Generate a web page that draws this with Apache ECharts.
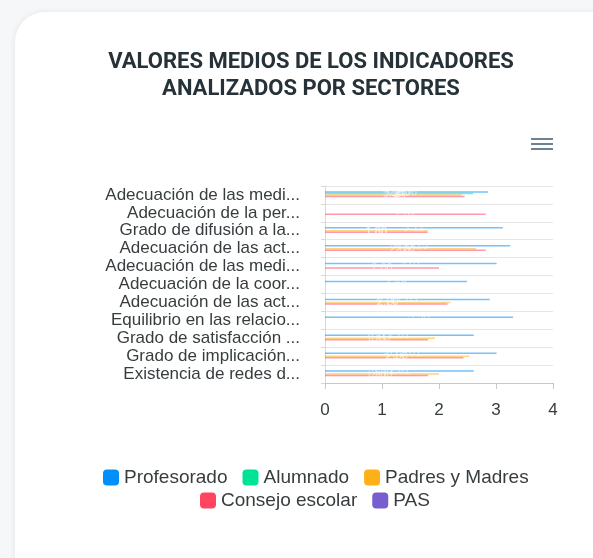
<!DOCTYPE html>
<html>
<head>
<meta charset="utf-8">
<script src="https://cdn.jsdelivr.net/npm/echarts@6/dist/echarts.min.js"></script>
<style>
  html, body { margin: 0; padding: 0; background: #f6f7f9; overflow: hidden; }
  .card {
    position: absolute; left: 15px; top: 12px; width: 610px; height: 590px;
    background: #fff; border-radius: 30px;
    box-shadow: 0 0 6px rgba(0, 0, 0, 0.08);
  }
  #chart { position: absolute; left: -15px; top: -12px; width: 593px; height: 558px; }
</style>
</head>
<body>
<div class="card"><div id="chart"></div></div>
<script>
// categories (top to bottom)
const indicadores = [
  'Adecuación de las medi...',
  'Adecuación de la per...',
  'Grado de difusión a la...',
  'Adecuación de las act...',
  'Adecuación de las medi...',
  'Adecuación de la coor...',
  'Adecuación de las act...',
  'Equilibrio en las relacio...',
  'Grado de satisfacción ...',
  'Grado de implicación...',
  'Existencia de redes d...'
]
const sectores = ['Profesorado', 'Alumnado', 'Padres y Madres', 'Consejo escolar', 'PAS']
const colores = ['#008FFB', '#00E396', '#FEB019', '#FF4560', '#775DD0']

const profesorado = [2.86, null, 3.12, 3.25, 3.01, 2.49, 2.89, 3.30, 2.61, 3.01, 2.61]
const alumnado = [2.6, null, null, null, null, null, null, null, null, null, null]
const padres = [2.4, null, 1.8, 2.65, null, null, 2.2, null, 1.93, 2.53, 2.0]
const consejo = [2.45, 2.82, 1.8, 2.82, 2.0, null, 2.15, null, 1.81, 2.43, 1.81]
const pas = [null, null, null, null, null, null, null, null, null, null, null]

const xTicks = [0, 1, 2, 3, 4]

const valores = [profesorado, alumnado, padres, consejo, pas]

const chart = echarts.init(document.getElementById('chart'))

const legendBase = {
  icon: 'roundRect',
  itemWidth: 16,
  itemHeight: 16,
  itemGap: 15,
  itemStyle: { opacity: 1 },
  textStyle: { fontSize: 19, color: '#373d3f', fontFamily: 'Liberation Sans, Arial' }
}

chart.setOption({
  animation: false,
  textStyle: { fontFamily: 'Liberation Sans, Arial, sans-serif' },
  title: {
    text: 'VALORES MEDIOS DE LOS INDICADORES\nANALIZADOS POR SECTORES',
    left: 306,
    textAlign: 'center',
    top: 44,
    textStyle: { fontFamily: 'Roboto', fontSize: 22, fontWeight: 'bold', color: '#263238', lineHeight: 27 }
  },
  graphic: [{
    type: 'group', left: 531, top: 138,
    children: [0, 5, 10].map(y => ({
      type: 'rect', shape: { x: 0, y: y, width: 22, height: 2 }, style: { fill: '#6E8192' }
    }))
  }],
  legend: [
    Object.assign({ data: sectores.slice(0, 3), top: 463, left: 98 }, legendBase),
    Object.assign({ data: sectores.slice(3), top: 486, left: 195 }, legendBase)
  ],
  grid: { left: 325, right: 40, top: 186, bottom: 175 },
  xAxis: {
    type: 'value', min: 0, max: 4, interval: 1,
    axisLine: { show: true, lineStyle: { color: '#c8c8c8' } },
    axisTick: { show: true, length: 6, lineStyle: { color: '#c8c8c8' } },
    splitLine: { show: false },
    axisLabel: { fontSize: 17, color: '#373d3f', margin: 19,
      formatter: v => xTicks.includes(v) ? String(v) : '' }
  },
  yAxis: {
    type: 'category', data: indicadores, inverse: true,
    axisLine: { show: true, lineStyle: { color: '#d8d8d8' } },
    axisTick: { show: true, length: 4, lineStyle: { color: '#d8d8d8' } },
    splitLine: { show: true, lineStyle: { color: '#e6e6e6' } },
    axisLabel: { fontSize: 17, color: '#373d3f', margin: 25, interval: 0, lineHeight: 18 }
  },
  series: sectores.map((s, i) => ({
    name: s,
    type: 'bar',
    data: valores[i],
    barCategoryGap: '58%',
    barGap: '0%',
    itemStyle: { color: colores[i], opacity: 0.55 },
    label: { show: true, position: 'inside', color: '#fff', fontSize: 11,
      formatter: p => p.value == null ? '' : p.value.toFixed(2) }
  }))
})
</script>
</body>
</html>
